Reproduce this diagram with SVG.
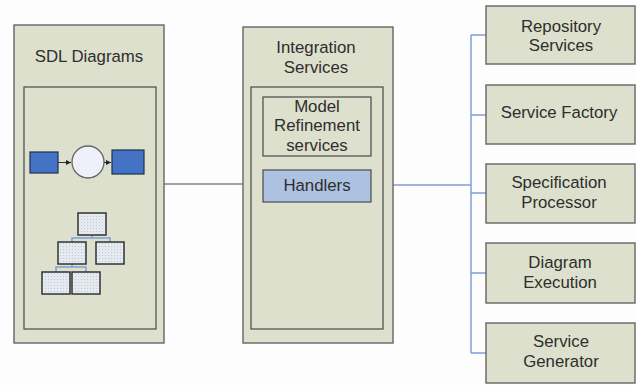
<svg xmlns="http://www.w3.org/2000/svg" width="636" height="385" viewBox="0 0 636 385">
<style>
.box{fill:#dde0cc;stroke:#6e6e6e;stroke-width:1.5}
.inner{fill:#dde0cc;stroke:#555;stroke-width:1.3}
.t{font-family:"Liberation Sans",Arial,sans-serif;font-size:16.8px;fill:#2e2e2e;text-anchor:middle}
.blue{fill:#4472c4;stroke:#1f2f4f;stroke-width:1.2}
.dot{fill:url(#dots);stroke:#333;stroke-width:1.5}
.bl{fill:none;stroke:#7f9fd6;stroke-width:1.5}
.dk{fill:none;stroke:#444;stroke-width:1}
</style>
<defs>
<pattern id="dots" width="3" height="3" patternUnits="userSpaceOnUse">
<rect width="3" height="3" fill="#e6e9ee"/>
<rect width="1" height="1" fill="#b9c8e0"/>
</pattern>
<marker id="ah" viewBox="0 0 6 6" refX="6" refY="3" markerWidth="5" markerHeight="5" orient="auto">
<path d="M0,0 L6,3 L0,6 z" fill="#222"/>
</marker>
</defs>
<rect width="636" height="385" fill="#fdfdfd"/>

<g id="connectors">
<line class="dk" x1="164" y1="184" x2="243" y2="184"/>
<line class="dk" x1="317" y1="156" x2="317" y2="170"/>
<polyline class="bl" points="393,185 471,185"/>
<line class="bl" x1="471" y1="35" x2="471" y2="353"/>
<line class="bl" x1="471" y1="35" x2="486" y2="35"/>
<line class="bl" x1="471" y1="115" x2="486" y2="115"/>
<line class="bl" x1="471" y1="193" x2="486" y2="193"/>
<line class="bl" x1="471" y1="273" x2="486" y2="273"/>
<line class="bl" x1="471" y1="353" x2="486" y2="353"/>
</g>

<g id="sdl-diagrams">
<rect class="box" x="14" y="25" width="150" height="318"/>
<text class="t" x="89" y="62">SDL Diagrams</text>
<rect class="inner" x="24" y="87" width="132" height="242"/>
<rect class="blue" x="30" y="152" width="28" height="21"/>
<line x1="58" y1="162.5" x2="71" y2="162.5" stroke="#333" stroke-width="1" marker-end="url(#ah)"/>
<circle cx="88" cy="162" r="16" fill="#eef1f9" stroke="#666" stroke-width="1.3"/>
<line x1="104" y1="162.5" x2="111" y2="162.5" stroke="#333" stroke-width="1" marker-end="url(#ah)"/>
<rect class="blue" x="112" y="150" width="32" height="24"/>
<polyline class="bl" points="92,235 92,238"/>
<polyline class="bl" points="72,242 72,238 110,238 110,242"/>
<polyline class="bl" points="72,264 72,267"/>
<polyline class="bl" points="56,272 56,267 86,267 86,272"/>
<rect class="dot" x="78" y="213" width="28" height="22"/>
<rect class="dot" x="58" y="242" width="28" height="22"/>
<rect class="dot" x="96" y="242" width="28" height="22"/>
<rect class="dot" x="42" y="272" width="28" height="22"/>
<rect class="dot" x="72" y="272" width="28" height="22"/>
</g>

<g id="integration-services">
<rect class="box" x="243" y="27" width="150" height="316"/>
<text class="t" x="316" y="53">Integration</text>
<text class="t" x="316" y="73">Services</text>
<rect class="inner" x="251" y="87" width="132" height="242"/>
</g>

<g id="model-refinement">
<rect class="inner" x="263" y="97" width="108" height="59"/>
<text class="t" x="317" y="112">Model</text>
<text class="t" x="317" y="131">Refinement</text>
<text class="t" x="317" y="151">services</text>
</g>

<g id="handlers">
<rect x="263" y="170" width="108" height="32" fill="#adc1e1" stroke="#555" stroke-width="1.3"/>
<text class="t" x="317" y="191">Handlers</text>
</g>

<g id="repository-services">
<rect class="box" x="486" y="6" width="149" height="58"/>
<text class="t" x="561" y="32">Repository</text>
<text class="t" x="561" y="51">Services</text>
</g>
<g id="service-factory">
<rect class="box" x="486" y="85" width="149" height="59"/>
<text class="t" x="559" y="118">Service Factory</text>
</g>
<g id="specification-processor">
<rect class="box" x="486" y="164" width="149" height="59"/>
<text class="t" x="559" y="188">Specification</text>
<text class="t" x="559" y="208">Processor</text>
</g>
<g id="diagram-execution">
<rect class="box" x="486" y="243" width="149" height="60"/>
<text class="t" x="560" y="268">Diagram</text>
<text class="t" x="560" y="288">Execution</text>
</g>
<g id="service-generator">
<rect class="box" x="486" y="323" width="149" height="60"/>
<text class="t" x="561" y="347">Service</text>
<text class="t" x="561" y="367">Generator</text>
</g>
</svg>
